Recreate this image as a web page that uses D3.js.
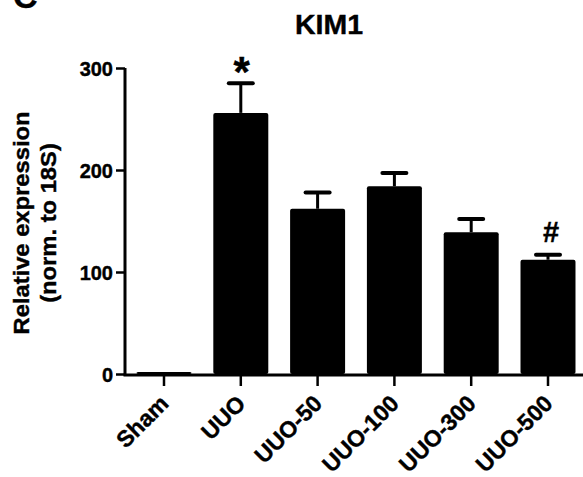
<!DOCTYPE html>
<html>
<head>
<meta charset="utf-8">
<script src="https://cdn.jsdelivr.net/npm/d3@7"></script>
<style>
  body { margin: 0; background: #fff; }
  text { font-family: "Liberation Sans", Arial, sans-serif; font-weight: bold; fill: #000;
         stroke: #000; stroke-width: 0.4px; }
</style>
</head>
<body>
<script>
// groups and means / sem
var groups = ["Sham", "UUO", "UUO-50", "UUO-100", "UUO-300", "UUO-500"];
var means = [2, 256, 162, 184, 139, 112];
var sems = [0.5, 29, 16, 13, 13, 5];
var marks = ["", "*", "", "", "", "#"];
var yTicks = [0, 100, 200, 300];

var W = 583, H = 477;
var svg = d3.select("body").append("svg").attr("width", W).attr("height", H);

var x = d3.scaleBand().domain(groups).range([125.6, 586.4])
    .paddingInner(0.284).paddingOuter(0.142);
var y = d3.scaleLinear().domain([0, 300]).range([374, 68]);

// bars
svg.selectAll("rect.bar").data(groups).enter().append("rect")
    .attr("class", "bar")
    .attr("x", function (d) { return x(d); })
    .attr("y", function (d, i) { return y(means[i]); })
    .attr("width", x.bandwidth())
    .attr("height", function (d, i) { return y(0) - y(means[i]); })
    .attr("rx", 2)
    .style("fill", "#000");

// error bars (upper only)
groups.forEach(function (g, i) {
    var cx = x(g) + x.bandwidth() / 2;
    var top = y(means[i] + sems[i]);
    if (i > 0) {
        svg.append("line")
            .attr("x1", cx).attr("x2", cx)
            .attr("y1", y(means[i])).attr("y2", top)
            .style("stroke", "#000").style("stroke-width", 3);
        svg.append("line")
            .attr("x1", cx - 12).attr("x2", cx + 12)
            .attr("y1", top).attr("y2", top)
            .style("stroke", "#000").style("stroke-width", 4)
            .style("stroke-linecap", "round");
    }
    if (marks[i] == "*") {
        svg.append("text").attr("x", cx + 1).attr("y", top + 3)
            .attr("text-anchor", "middle").style("font-size", "42px").text("*");
    } else if (marks[i] == "#") {
        svg.append("text").attr("x", cx + 3).attr("y", top - 13)
            .attr("text-anchor", "middle").style("font-size", "29px").text("#");
    }
});

// y axis
var yAxis = svg.append("g").attr("transform", "translate(125,0)")
    .call(d3.axisLeft(y).tickValues(yTicks).tickSize(9).tickPadding(3).tickFormat(d3.format("d")));
yAxis.select(".domain").attr("d", "M0," + y(300) + "V" + (y(0) + 1.5))
    .style("stroke", "#000").style("stroke-width", 3);
yAxis.selectAll(".tick line").style("stroke", "#000").style("stroke-width", 2.5);
yAxis.selectAll(".tick text").style("font-size", "20px").style("font-family", null)
    .attr("dy", "0.36em");

// x axis
var xAxis = svg.append("g").attr("transform", "translate(0," + (y(0) + 1) + ")")
    .call(d3.axisBottom(x).tickSize(11).tickSizeOuter(0));
xAxis.select(".domain").attr("d", "M123.5,0H583")
    .style("stroke", "#000").style("stroke-width", 3);
xAxis.selectAll(".tick line").style("stroke", "#000").style("stroke-width", 2.5);
xAxis.selectAll(".tick text")
    .style("font-size", "23px").style("font-family", null)
    .attr("text-anchor", "end")
    .attr("y", 0).attr("dy", 0)
    .attr("transform", "translate(6,30) rotate(-45)");

// title
svg.append("text").attr("x", 329).attr("y", 34)
    .attr("text-anchor", "middle").style("font-size", "28.5px").text("KIM1");

// y label
var yl = svg.append("text").attr("transform", "translate(29,223) rotate(-90) scale(1.08,1)")
    .attr("text-anchor", "middle").style("font-size", "22px");
yl.append("tspan").attr("x", 0).attr("y", 0).text("Relative expression");
yl.append("tspan").attr("x", 0).attr("y", 27).text("(norm. to 18S)");

// panel letter, cut at the top
svg.append("text").attr("x", 13).attr("y", 8).style("font-size", "34px").text("C");
</script>
</body>
</html>
